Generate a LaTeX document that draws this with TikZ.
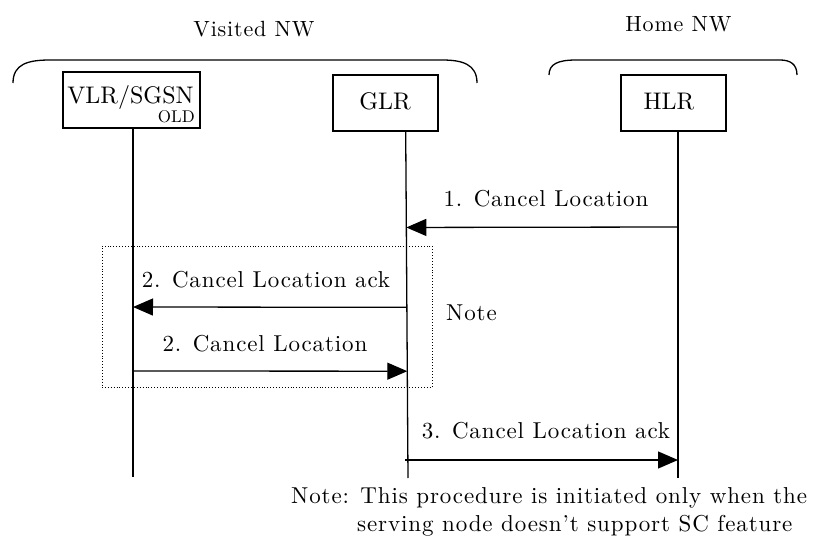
\documentclass[tikz,border=0pt]{standalone}
\usepackage{fontspec}
\setmainfont{lmroman10-regular}[Extension=.otf]
\newfontfamily\lsfont{lmroman10-regular}[Extension=.otf, LetterSpace=3.8]
\usetikzlibrary{arrows.meta,calc}
\begin{document}
\begin{tikzpicture}[x=1pt,y=-1pt,
  box/.style={draw, line width=1.3pt, inner sep=0pt},
  life/.style={line width=1.3pt},
  msg/.style={line width=1.3pt, -{Triangle[length=20pt,width=17pt]}},
  lbl/.style={font=\lsfont\fontsize{23}{27}\selectfont, inner sep=0pt, anchor=base},
  hdr/.style={font=\lsfont\fontsize{22}{26}\selectfont, inner sep=0pt, anchor=base},
  ent/.style={font=\fontsize{24}{28}\selectfont, inner sep=0pt, anchor=base},
  brace/.style={line width=1.3pt},
  notebox/.style={draw, dotted, line width=0.9pt, inner sep=0pt}
]
\useasboundingbox (0,0) rectangle (815,543);

% network brackets
\draw[brace] (13,83) .. controls (13,64) and (28,60) .. (50,60) -- (442,60) .. controls (462,60) and (477,64) .. (477,83);
\draw[brace] (549,75) .. controls (549,64) and (558,60) .. (576,60) -- (780,60) .. controls (790,60) and (797,64) .. (797,75);
\node[hdr] (visited) at (254,36.5) {Visited NW};
\node[hdr] (home) at (678.5,32) {Home NW};

% entities
\node[box, minimum width=137pt, minimum height=56pt] (vlr) at (131.5,100) {};
\node[ent] (vlrt) at (130.5,104) {VLR/SGSN};
\node[font=\fontsize{17}{20}\selectfont, inner sep=0pt, anchor=base east] (vlrold) at (195,123) {OLD};
\node[box, minimum width=105pt, minimum height=56pt] (glr) at (385.5,103) {};
\node[ent] (glrt) at (385,110) {GLR};
\node[box, minimum width=105pt, minimum height=56pt] (hlr) at (673.5,103) {};
\node[ent] (hlrt) at (669,110) {HLR};

% lifelines
\coordinate (vtop) at (vlr.south -| 133,0);
\coordinate (vbot) at (133,477);
\coordinate (gtop) at (glr.south -| 405.7,0);
\coordinate (gbot) at (408,478);
\coordinate (htop) at (hlr.south -| 678,0);
\coordinate (hbot) at (678,478);
\draw[life] (vtop) -- (vbot);
\draw[life] (gtop) -- (gbot);
\draw[life] (htop) -- (hbot);

% message points
\coordinate (h1) at (678,227);
\coordinate (g1) at ($(gtop)!{(227-131)/347}!(gbot)$);
\coordinate (g2) at ($(gtop)!{(307-131)/347}!(gbot)$);
\coordinate (v2) at (133,307);
\coordinate (v3) at (133,371);
\coordinate (g3) at ($(gtop)!{(371-131)/347}!(gbot)$);
\coordinate (g4) at (405,460);
\coordinate (h4) at (678,460);

% note box
\node[notebox, minimum width=330pt, minimum height=141pt] (nbox) at (267,316.5) {};

% messages
\draw[msg] (h1) -- (g1);
\draw[msg] (g2) -- (v2);
\draw[msg] (v3) -- (g3);
\draw[msg] (g4) -- (h4);

\node[lbl] (m1) at (546,206) {1. Cancel Location};
\node[lbl] (m2a) at (266,287) {2. Cancel Location ack};
\node[lbl] (m2b) at (265,351) {2. Cancel Location};
\node[lbl, anchor=base west] (note) at (446,320) {Note};
\node[lbl] (m3) at (546,438) {3. Cancel Location ack};
\node[lbl, anchor=base west] (n1) at (291,503) {Note: This procedure is initiated only when the};
\node[lbl, anchor=base west] (n2) at (357,531) {serving node doesn’t support SC feature};
\end{tikzpicture}
\end{document}
